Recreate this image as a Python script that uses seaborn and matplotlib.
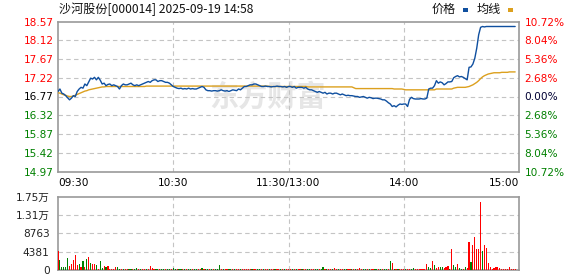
import matplotlib
matplotlib.use("Agg")
import matplotlib.pyplot as plt
from matplotlib.patches import Rectangle
import pandas as pd
import seaborn as sns

# ---------------- data ----------------
title = "沙河股份[000014] 2025-09-19 14:58"
prev_close = 16.77
price_ticks = [14.97, 15.42, 15.87, 16.32, 16.77, 17.22, 17.67, 18.12, 18.57]
pct_labels = ["10.72%", "8.04%", "5.36%", "2.68%", "0.00%", "2.68%", "5.36%", "8.04%", "10.72%"]
time_ticks = [0, 60, 120, 180, 240]
time_labels = ["09:30", "10:30", "11:30/13:00", "14:00", "15:00"]
vol_ticks = [0, 4381, 8763, 13144, 17526]
vol_labels = ["0", "4381", "8763", "1.31万", "1.75万"]
legend_labels = ["价格", "均线"]

price = [
    16.89, 16.95, 16.85, 16.83, 16.79, 16.74, 16.69, 16.73, 16.79, 16.77,
    16.89, 16.95, 16.99, 16.97, 17.07, 17.03, 17.12, 17.21, 17.19, 17.23,
    17.17, 17.23, 17.16, 17.07, 17.09, 17.03, 17.06, 17.07, 17.03, 17.05,
    17.03, 17.01, 16.95, 17.03, 17.07, 17.05, 17.05, 17.07, 17.09, 17.05,
    17.03, 17.05, 17.03, 17.05, 17.07, 17.09, 17.11, 17.13, 17.11, 17.15,
    17.17, 17.17, 17.13, 17.15, 17.15, 17.13, 17.11, 17.11, 17.09, 17.05,
    17.01, 16.99, 16.97, 16.96, 16.97, 16.95, 16.96, 16.95, 16.97, 16.95,
    16.96, 16.95, 16.95, 16.97, 16.99, 17.01, 16.99, 16.93, 16.91, 16.91,
    16.90, 16.91, 16.91, 16.90, 16.91, 16.93, 16.91, 16.90, 16.91, 16.89,
    16.91, 16.93, 16.92, 16.91, 16.95, 16.93, 16.97, 17.01, 17.01, 17.03,
    17.05, 17.05, 17.07, 17.07, 17.05, 17.03, 17.01, 17.01, 17.02, 17.01,
    17.01, 17.00, 17.01, 17.01, 17.02, 17.01, 17.01, 17.00, 17.01, 16.99,
    17.01, 17.01, 16.99, 17.01, 16.97, 16.99, 16.99, 16.99, 16.97, 16.99,
    16.95, 16.93, 16.93, 16.91, 16.89, 16.87, 16.89, 16.87, 16.85, 16.87,
    16.83, 16.85, 16.85, 16.83, 16.85, 16.85, 16.83, 16.81, 16.83, 16.81,
    16.79, 16.80, 16.79, 16.79, 16.78, 16.77, 16.77, 16.75, 16.76, 16.77,
    16.75, 16.73, 16.75, 16.74, 16.72, 16.73, 16.73, 16.72, 16.71, 16.69,
    16.69, 16.66, 16.62, 16.59, 16.53, 16.55, 16.52, 16.56, 16.59, 16.58,
    16.59, 16.59, 16.53, 16.70, 16.75, 16.72, 16.71, 16.71, 16.71, 16.72,
    16.71, 16.71, 16.73, 16.95, 16.97, 16.97, 17.03, 17.15, 17.09, 17.12,
    17.10, 17.05, 17.08, 17.12, 17.12, 17.13, 17.22, 17.25, 17.27, 17.24,
    17.25, 17.23, 17.20, 17.17, 17.47, 17.48, 17.55, 17.69, 17.93, 18.25,
    18.43, 18.45, 18.44, 18.45, 18.45, 18.45, 18.45, 18.45, 18.45, 18.45,
    18.45, 18.45, 18.45, 18.45, 18.45, 18.45, 18.45, 18.45, 18.45,
]

avg = [
    16.86, 16.85, 16.83, 16.81, 16.80, 16.78, 16.77, 16.77, 16.78, 16.80,
    16.82, 16.84, 16.86, 16.88, 16.90, 16.91, 16.93, 16.94, 16.95, 16.96,
    16.97, 16.98, 16.99, 17.00, 17.00, 17.01, 17.01, 17.01, 17.01, 17.01,
    17.01, 17.01, 17.01, 17.01, 17.01, 17.01, 17.01, 17.01, 17.01, 17.01,
    17.01, 17.01, 17.01, 17.01, 17.01, 17.01, 17.02, 17.02, 17.02, 17.02,
    17.02, 17.02, 17.02, 17.02, 17.02, 17.02, 17.02, 17.02, 17.02, 17.02,
    17.02, 17.02, 17.02, 17.02, 17.02, 17.02, 17.02, 17.02, 17.02, 17.02,
    17.02, 17.02, 17.02, 17.02, 17.02, 17.02, 17.02, 17.02, 17.02, 17.02,
    17.02, 17.02, 17.02, 17.02, 17.02, 17.02, 17.02, 17.02, 17.02, 17.02,
    17.02, 17.02, 17.02, 17.02, 17.02, 17.02, 17.02, 17.02, 17.02, 17.02,
    17.02, 17.02, 17.02, 17.02, 17.02, 17.02, 17.02, 17.02, 17.02, 17.02,
    17.01, 17.01, 17.01, 17.01, 17.01, 17.01, 17.01, 17.01, 17.01, 17.01,
    17.01, 17.01, 17.01, 17.01, 17.01, 17.01, 17.01, 17.01, 17.01, 17.01,
    17.00, 17.00, 17.00, 17.00, 17.00, 17.00, 17.00, 17.00, 17.00, 17.00,
    17.00, 17.00, 17.00, 17.00, 17.00, 17.00, 17.00, 17.00, 17.00, 17.00,
    17.00, 17.00, 17.00, 17.00, 16.98, 16.96, 16.96, 16.96, 16.96, 16.96,
    16.96, 16.96, 16.96, 16.96, 16.96, 16.96, 16.96, 16.96, 16.96, 16.96,
    16.96, 16.96, 16.96, 16.96, 16.96, 16.95, 16.95, 16.95, 16.95, 16.95,
    16.94, 16.93, 16.93, 16.93, 16.93, 16.93, 16.93, 16.93, 16.93, 16.93,
    16.93, 16.93, 16.93, 16.93, 16.93, 16.93, 16.93, 16.95, 16.95, 16.95,
    16.95, 16.95, 16.95, 16.95, 16.95, 16.95, 16.97, 16.98, 16.99, 16.99,
    16.99, 16.99, 16.99, 17.00, 17.01, 17.03, 17.05, 17.08, 17.11, 17.15,
    17.20, 17.24, 17.27, 17.29, 17.31, 17.32, 17.33, 17.34, 17.34, 17.34,
    17.34, 17.35, 17.35, 17.35, 17.35, 17.36, 17.36, 17.36, 17.36,
]

volume = [
    4600, 2390, 800, 800, 800, 2950, 1040, 1350, 2390, 3590,
    1200, 1430, 800, 2150, 800, 2630, 3190, 1590, 1350, 1350,
    1200, 240, 2150, 400, 960, 800, 960, 240, 240, 240,
    720, 720, 240, 200, 240, 200, 240, 200, 200, 240,
    200, 480, 240, 200, 240, 200, 240, 240, 960, 480,
    240, 200, 240, 200, 240, 200, 240, 200, 240, 200,
    480, 240, 200, 240, 200, 200, 240, 200, 200, 240,
    200, 200, 240, 240, 200, 480, 200, 240, 200, 240,
    200, 240, 200, 200, 1200, 240, 200, 200, 240, 200,
    240, 200, 240, 200, 240, 200, 240, 240, 200, 240,
    200, 240, 240, 200, 200, 240, 200, 240, 200, 240,
    200, 200, 240, 200, 240, 200, 240, 200, 240, 200,
    240, 200, 240, 200, 240, 200, 240, 200, 240, 200,
    240, 240, 200, 240, 200, 240, 200, 240, 800, 240,
    200, 240, 200, 240, 480, 200, 240, 200, 200, 240,
    200, 240, 200, 240, 200, 240, 240, 480, 200, 240,
    200, 240, 200, 240, 200, 240, 240, 200, 240, 200,
    240, 240, 200, 2150, 1750, 240, 240, 200, 240, 200,
    240, 200, 240, 240, 200, 400, 240, 200, 240, 200,
    240, 200, 1510, 800, 480, 2150, 1200, 480, 640, 800,
    640, 400, 800, 1040, 240, 5020, 1200, 800, 1430, 400,
    240, 240, 640, 400, 6770, 1910, 5980, 7960, 5020, 5020,
    16330, 4540, 5980, 5260, 1670, 640, 240, 560, 720, 720,
    400, 240, 240, 240, 240, 720, 240, 200, 240,
]

direction = "".join([
    "RGGGGGRRRR", "RGRGRGRGRR", "GRGGRGRRRR", "RGGRGRRGGR", "GGRGRRGRRR",
    "RGGRGGRGGR", "GGRGGRGRGG", "RGGRRGRGGR", "GRGGGRGRRG", "GRGRRGRRRR",
    "RGRRGGRGRR", "GRRGRRGRGR", "RRGRGRRGRR", "GGRRGGRGGR", "GRRGRRGRRG",
    "GRRGRGRRRG", "GRGRRGGRGR", "GGRGRGRGRR", "RGRRGGRRRR", "RRRGGRGRRG",
    "GRRRGRGGRG", "GRGRRGRRRR", "RGRRRRRRRR", "RRRRRRRRR",
])

# ---------------- style ----------------
BLUE = "#0f4f9f"
GOLD = "#dca01e"
RED = "#ff0000"
GREEN = "#008000"
GRID = "#c4c4c4"
SPINE = "#999999"
FS = 7.6
DASH = (0, (4, 3))

sns.set_theme(style="white")
plt.rcParams["font.family"] = ["DejaVu Sans", "Noto Sans CJK SC"]

df = pd.DataFrame({
    "minute": list(range(len(price))),
    "price": price,
    "avg": avg,
    "volume": volume,
    "dir": list(direction),
})

W, H = 578, 276
fig = plt.figure(figsize=(W / 100, H / 100), dpi=100)
fig.patch.set_facecolor("white")


def box(x0, y0, x1, y1):
    return [x0 / W, 1 - y1 / H, (x1 - x0) / W, (y1 - y0) / H]


def dashed_grid(a, xs, ys, x0, x1, y0, y1):
    a.vlines(xs, y0, y1, colors=GRID, linestyles=[DASH], linewidths=0.8, zorder=2)
    a.hlines(ys, x0, x1, colors=GRID, linestyles=[DASH], linewidths=0.8, zorder=2)


# ---------------- main price panel ----------------
ax = fig.add_axes(box(58, 21.5, 519, 171.5))
ax.set_facecolor("white")
ax.text(0.455, 0.5, "东方财富", transform=ax.transAxes, ha="center", va="center",
        fontsize=21, fontweight="bold", color="#e6e6e6",
        family=["Noto Sans CJK SC", "DejaVu Sans"], zorder=0.5)
dashed_grid(ax, time_ticks[1:-1], price_ticks[1:-1], 0, 240, price_ticks[0], price_ticks[-1])

sns.lineplot(data=df, x="minute", y="avg", color=GOLD, linewidth=1.0, ax=ax, zorder=3)
sns.lineplot(data=df, x="minute", y="price", color=BLUE, linewidth=1.0, ax=ax, zorder=4)

ax.set_xlim(0, 240)
ax.set_ylim(price_ticks[0], price_ticks[-1])
ax.set_yticks(price_ticks)
ax.set_yticklabels([f"{t:.2f}" for t in price_ticks])
ax.set_xticks(time_ticks)
ax.set_xticklabels(time_labels)
ax.set_xlabel("")
ax.set_ylabel("")
ax.tick_params(axis="both", length=0, labelsize=FS)
ax.tick_params(axis="y", pad=3)
ax.tick_params(axis="x", pad=5)
for t, lbl in zip(price_ticks, ax.get_yticklabels()):
    if t > prev_close + 1e-6:
        lbl.set_color(RED)
    elif t < prev_close - 1e-6:
        lbl.set_color(GREEN)
    else:
        lbl.set_color("#000000")
xl = ax.get_xticklabels()
xl[0].set_ha("left")
xl[-1].set_ha("right")
for lbl in xl:
    lbl.set_color("#000000")
for sp in ax.spines.values():
    sp.set_color(SPINE)
    sp.set_linewidth(1.2)
    sp.set_visible(True)

ax2 = ax.twinx()
ax2.set_ylim(price_ticks[0], price_ticks[-1])
ax2.set_yticks(price_ticks)
ax2.set_yticklabels(pct_labels[::-1])
ax2.tick_params(axis="y", length=0, labelsize=FS, pad=4)
for t, lbl in zip(price_ticks, ax2.get_yticklabels()):
    if t > prev_close + 1e-6:
        lbl.set_color(RED)
    elif t < prev_close - 1e-6:
        lbl.set_color(GREEN)
    else:
        lbl.set_color("#000033")
for sp in ax2.spines.values():
    sp.set_visible(False)

# ---------------- volume panel ----------------
axv = fig.add_axes(box(58, 196.5, 519, 270))
axv.set_facecolor("white")
dashed_grid(axv, time_ticks[1:-1], vol_ticks[1:-1], 0, 240, vol_ticks[0], vol_ticks[-1])
sns.barplot(data=df, x="minute", y="volume", hue="dir",
            palette={"R": RED, "G": GREEN}, native_scale=True, dodge=False,
            width=0.6, legend=False, errorbar=None, linewidth=0,
            saturation=1, ax=axv, zorder=3)
axv.set_xlim(0, 240)
axv.set_ylim(vol_ticks[0], vol_ticks[-1])
axv.set_yticks(vol_ticks)
axv.set_yticklabels(vol_labels)
axv.set_xticks(time_ticks)
axv.set_xticklabels([])
axv.set_xlabel("")
axv.set_ylabel("")
axv.tick_params(axis="both", length=0, labelsize=FS)
axv.tick_params(axis="y", pad=6, labelcolor="#222222")
for sp in axv.spines.values():
    sp.set_color(SPINE)
    sp.set_linewidth(1.2)
    sp.set_visible(True)

# ---------------- title & legend ----------------
fig.text(59 / W, 1 - 9 / H, title, ha="left", va="center", fontsize=8.7,
         color="#111111", family=["Noto Sans CJK SC", "DejaVu Sans"])
fig.text(432 / W, 1 - 9 / H, legend_labels[0], ha="left", va="center", fontsize=8.7,
         color="#111111", family=["Noto Sans CJK SC", "DejaVu Sans"])
fig.text(477 / W, 1 - 9 / H, legend_labels[1], ha="left", va="center", fontsize=8.7,
         color="#111111", family=["Noto Sans CJK SC", "DejaVu Sans"])
fig.add_artist(Rectangle((463 / W, 1 - 11.5 / H), 5 / W, 3 / H, transform=fig.transFigure,
                         facecolor=BLUE, edgecolor="none"))
fig.add_artist(Rectangle((508 / W, 1 - 11.5 / H), 5 / W, 3 / H, transform=fig.transFigure,
                         facecolor=GOLD, edgecolor="none"))

fig.savefig("out.png", dpi=100, facecolor="white")
